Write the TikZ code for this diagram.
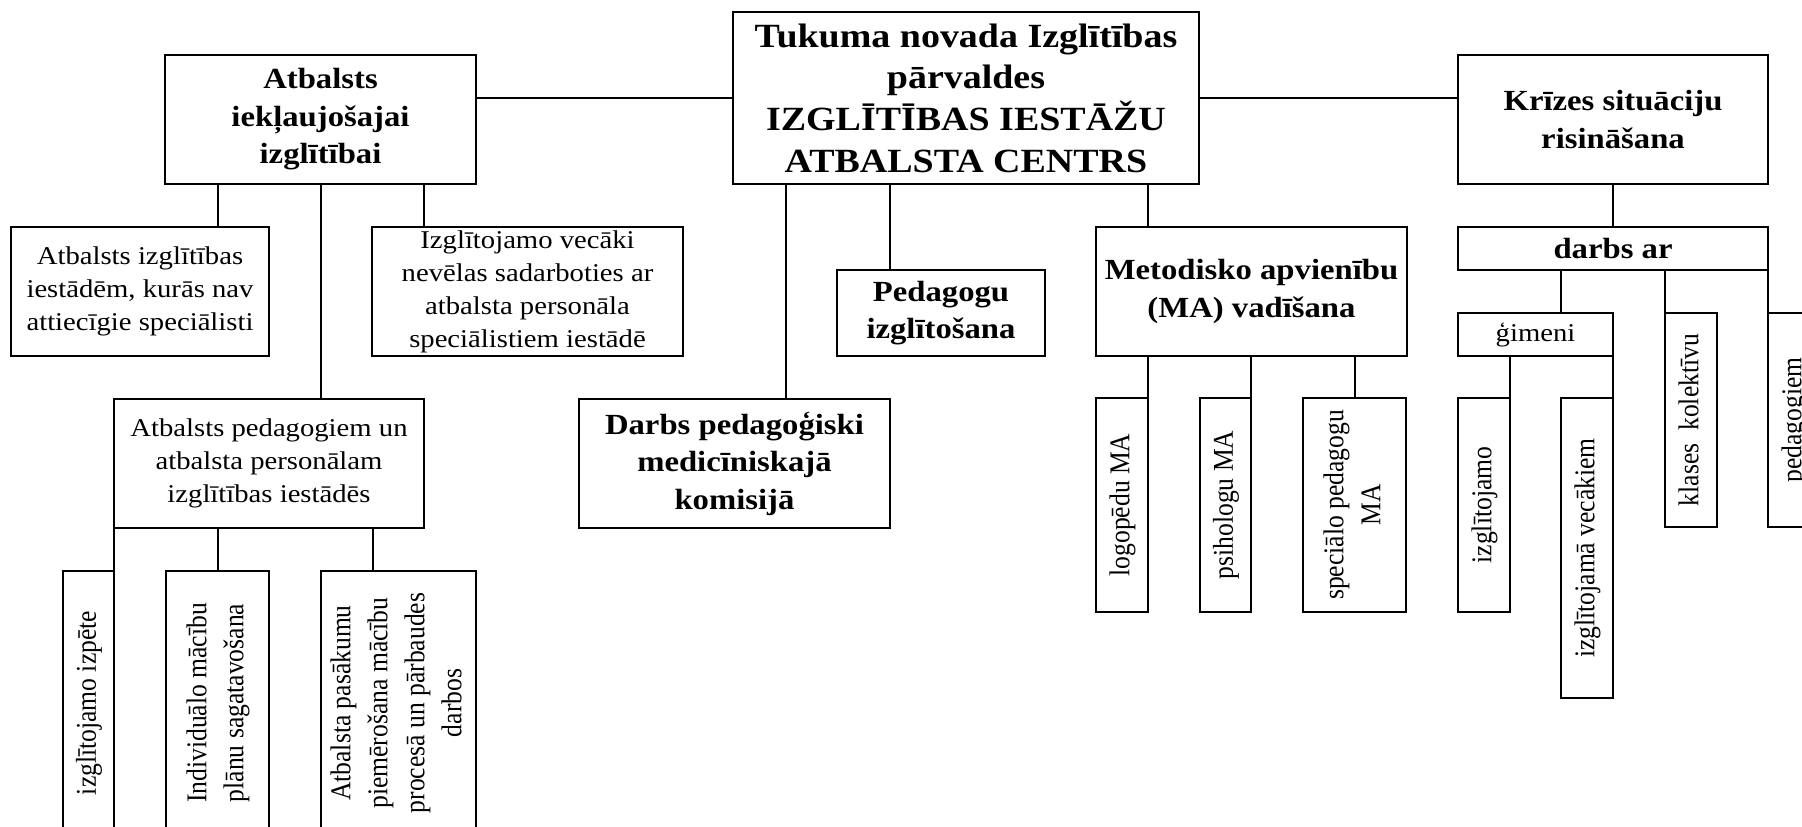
\documentclass[tikz,border=0pt]{standalone}
\usepackage{fontspec}
\usepackage{graphicx}
\setmainfont{Liberation Serif}[FakeStretch=1.12]
\newfontfamily\vfont{Liberation Serif}
\newcommand\mytv[1]{\scalebox{1.12}[1]{\rotatebox{90}{\vfont\fontsize{12.8}{16.5}\selectfont\begin{tabular}{@{}c@{}}#1\end{tabular}}}}
\tikzset{
  box/.style={draw, line width=1pt, inner sep=0pt, outer sep=0pt, align=center},
  reg/.style={font=\fontsize{12.8}{16.5}\selectfont},
  bld/.style={font=\fontsize{14.6}{18.75}\selectfont\bfseries},
  big/.style={font=\fontsize{16.95}{20.85}\selectfont\bfseries},
  link/.style={line width=1pt},
}
\begin{document}
\begin{tikzpicture}[x=0.5pt,y=-0.5pt]
\useasboundingbox (0,0) rectangle (1802,826);
\fill[white] (0,0) rectangle (1802,826);
\clip (0,0) rectangle (1802,826);
% top level
\node[box,big,minimum width=233pt,minimum height=86pt] (C) at (966,98)
  {Tukuma novada Izglītības\\pārvaldes\\IZGLĪTĪBAS IESTĀŽU\\ATBALSTA CENTRS};
\node[box,bld,minimum width=155.5pt,minimum height=64.5pt] (A) at (320.5,119.5)
  {Atbalsts\\iekļaujošajai\\izglītībai};
\node[box,bld,minimum width=155pt,minimum height=64.5pt] (K) at (1613,119.5)
  {Krīzes situāciju\\risināšana};
% left branch
\node[box,reg,minimum width=129pt,minimum height=64.5pt] (A1) at (140,291.5)
  {Atbalsts izglītības\\iestādēm, kurās nav\\attiecīgie speciālisti};
\node[box,reg,minimum width=155.5pt,minimum height=64.5pt] (A3) at (527.5,291.5)
  {Izglītojamo vecāki\\nevēlas sadarboties ar\\atbalsta personāla\\speciālistiem iestādē};
\node[box,reg,minimum width=155pt,minimum height=64.5pt] (A2) at (269,463.5)
  {Atbalsts pedagogiem un\\atbalsta personālam\\izglītības iestādēs};
\node[box,minimum width=25.5pt,minimum height=132pt] (A21) at (88.5,703)
  {\mytv{izglītojamo izpēte}};
\node[box,minimum width=51.5pt,minimum height=132pt] (A22) at (217.5,703)
  {\mytv{Individuālo mācību\\plānu sagatavošana}};
\node[box,minimum width=77.5pt,minimum height=132pt] (A23) at (398.5,703)
  {\mytv{Atbalsta pasākumu\\piemērošana mācību\\procesā un pārbaudes\\darbos}};
% middle
\node[box,bld,minimum width=155.5pt,minimum height=64.5pt] (DP) at (734.5,463.5)
  {Darbs pedagoģiski\\medicīniskajā\\komisijā};
\node[box,bld,minimum width=104pt,minimum height=43pt] (P) at (941,313)
  {Pedagogu\\izglītošana};
\node[box,bld,minimum width=155.5pt,minimum height=64.5pt] (M) at (1251.5,291.5)
  {Metodisko apvienību\\(MA) vadīšana};
\node[box,minimum width=26pt,minimum height=107pt] (M1) at (1122,505)
  {\mytv{logopēdu MA}};
\node[box,minimum width=25.5pt,minimum height=107pt] (M2) at (1225.5,505)
  {\mytv{psihologu MA}};
\node[box,minimum width=51.5pt,minimum height=107pt] (M3) at (1354.5,505)
  {\mytv{speciālo pedagogu\\MA}};
% right branch
\node[box,bld,minimum width=155pt,minimum height=21.5pt] (D) at (1613,248.5)
  {\raisebox{-3pt}{darbs ar}};
\node[box,reg,minimum width=77.5pt,minimum height=21.5pt] (G) at (1535.5,334.5)
  {\raisebox{-3pt}{ģimeni}};
\node[box,minimum width=26pt,minimum height=107pt] (K3) at (1691,420)
  {\mytv{klases\ \ kolektīvu}};
\node[box,minimum width=26pt,minimum height=107pt] (K4) at (1794,420)
  {\mytv{pedagogiem}};
\node[box,minimum width=26pt,minimum height=107pt] (G1) at (1484,505)
  {\mytv{izglītojamo}};
\node[box,minimum width=26pt,minimum height=150pt] (G2) at (1587,548)
  {\mytv{izglītojamā vecākiem}};
% helper x positions
\coordinate (xa1) at (218,0);
\coordinate (xa2) at (321,0);
\coordinate (xa3) at (424,0);
\coordinate (xa23) at (373,0);
\coordinate (xdp) at (786,0);
\coordinate (xp) at (890,0);
\coordinate (xm) at (1148,0);
\coordinate (xg) at (1561,0);
% connectors
\draw[link] (C.west) -- (C.west -| A.east);
\draw[link] (C.east) -- (C.east -| K.west);
\draw[link] (A.south -| xa1) -- (A1.north -| xa1);
\draw[link] (A.south -| xa2) -- (A2.north -| xa2);
\draw[link] (A.south -| xa3) -- (A3.north -| xa3);
\draw[link] (A2.south west) -- (A21.north east);
\draw[link] (A2.south -| A22.north) -- (A22.north);
\draw[link] (A2.south -| xa23) -- (A23.north -| xa23);
\draw[link] (C.south -| xdp) -- (DP.north -| xdp);
\draw[link] (C.south -| xp) -- (P.north -| xp);
\draw[link] (C.south -| xm) -- (M.north -| xm);
\draw[link] (M.south -| M1.north east) -- (M1.north east);
\draw[link] (M.south -| M2.north east) -- (M2.north east);
\draw[link] (M.south -| M3.north) -- (M3.north);
\draw[link] (K.south) -- (D.north);
\draw[link] (D.south -| xg) -- (G.north -| xg);
\draw[link] (D.south -| K3.north west) -- (K3.north west);
\draw[link] (D.south east) -- (K4.north west);
\draw[link] (G.south -| G1.north east) -- (G1.north east);
\draw[link] (G.south east) -- (G2.north east);
\end{tikzpicture}
\end{document}
